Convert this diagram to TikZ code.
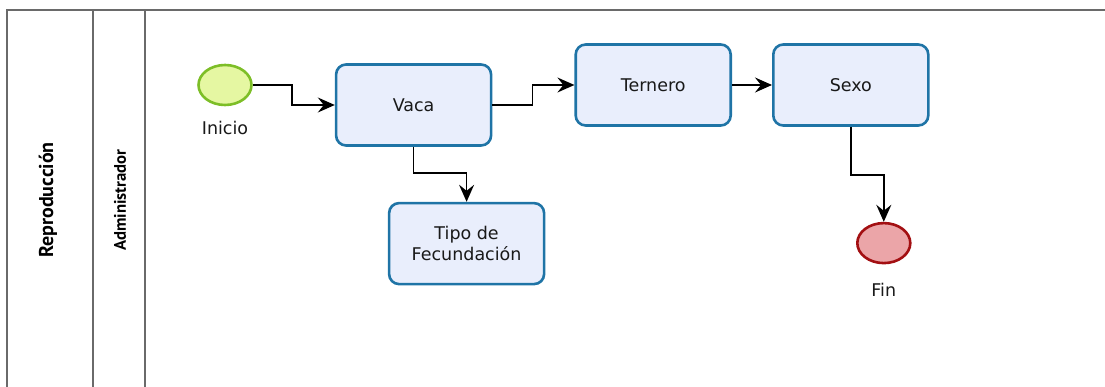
\documentclass[tikz,border=0pt]{standalone}
\usepackage{fontspec}
\setmainfont{DejaVu Sans}
\newfontfamily\lanefont{PT Sans}
\usepackage{tikz}
\usetikzlibrary{positioning, shapes.geometric, arrows.meta}

\definecolor{tareaborde}{HTML}{1F74A6}
\definecolor{tareafondo}{HTML}{E9EEFC}
\definecolor{iniborde}{HTML}{7DBE27}
\definecolor{inifondo}{HTML}{E5F7A2}
\definecolor{finborde}{HTML}{A30F12}
\definecolor{finfondo}{HTML}{EBA5A8}
\definecolor{carril}{HTML}{6A6A6A}

\begin{document}
\begin{tikzpicture}[x=1pt, y=-1pt, >={Stealth[length=17pt, width=15pt, inset=6pt]},
    font=\fontsize{17.5}{21}\selectfont, text=black!90,
    tarea/.style={draw=tareaborde, fill=tareafondo, line width=2.6pt, rounded corners=10pt,
        minimum width=155pt, minimum height=81pt, align=center},
    evento/.style={ellipse, line width=2.6pt, minimum width=53pt, minimum height=40pt}]
        \useasboundingbox (0,0) rectangle (1105,387);

        % carriles
        \draw[carril, line width=1.3pt] (7,387) |- (1105,10);
        \draw[carril, line width=1.3pt] (93,10) -- (93,387);
        \draw[carril, line width=1.3pt] (145,10) -- (145,387);
        \node[rotate=90, font=\lanefont\bfseries\fontsize{20}{24}\selectfont, text=black] (proceso) at (48,200) {Reproducción};
        \node[rotate=90, font=\lanefont\bfseries\fontsize{16.7}{20}\selectfont, text=black] (actor)   at (120,200) {Administrador};

        \node[evento, draw=iniborde, fill=inifondo]                  (inicio)  at (225,85) {};
        \node[below=11pt of inicio]                                  (lblini)  {Inicio};
        \node[tarea, right=82pt of inicio, yshift=-20pt]             (vaca)    {Vaca};
        \node[tarea, right=82pt of vaca, yshift=20pt]                (ternero) {Ternero};
        \node[tarea, right=40pt of ternero]                          (sexo)    {Sexo};
        \node[tarea, below=55pt of vaca, xshift=53pt]                (tipo)    {Tipo de\\Fecundación};
        \node[evento, draw=finborde, fill=finfondo, below=95pt of sexo, xshift=33pt] (fin) {};
        \node[below=15pt of fin]                                     (lblfin)  {Fin};

        \draw[->, line width=1.5pt] (inicio.east) -- ++(39,0) |- (vaca.west);
        \draw[->, line width=1.5pt] (vaca.east) -- ++(40,0) |- (ternero.west);
        \draw[->, line width=1.5pt] (ternero) -- (sexo);
        \draw[->, line width=1.5pt] (vaca.south) -- ++(0,26) -| (tipo.north);
        \draw[->, line width=1.5pt] (sexo.south) -- ++(0,48) -| (fin.north);
    \end{tikzpicture}
\end{document}
